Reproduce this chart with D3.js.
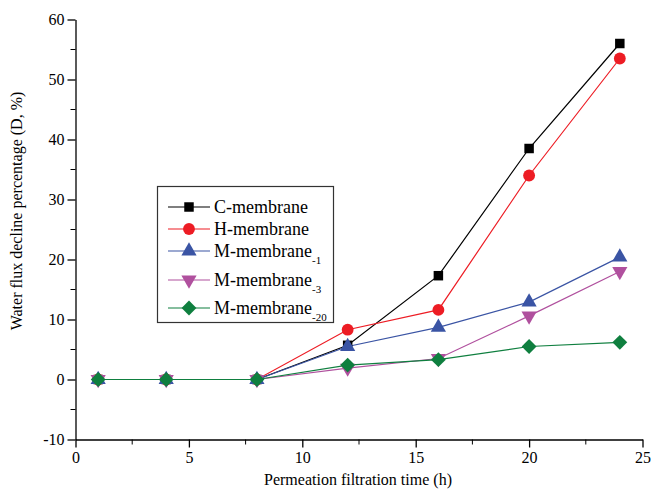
<!DOCTYPE html>
<html>
<head>
<meta charset="utf-8">
<script src="https://cdn.jsdelivr.net/npm/d3@7"></script>
<style>
  body { margin: 0; background: #fff; }
  svg, svg text { font-family: "Liberation Serif", "Times New Roman", Times, serif !important; }
</style>
</head>
<body>
<div id="chart"></div>
<script>
(function () {

    const W = 651, H = 494;

    // data
    const hours = [1, 4, 8, 12, 16, 20, 24];
    const cMembrane   = [0, 0, 0, 5.7, 17.3, 38.5, 56.0];
    const hMembrane   = [0, 0, 0, 8.3, 11.6, 34.0, 53.5];
    const mMembrane1  = [0, 0, 0, 5.5, 8.7, 12.9, 20.4];
    const mMembrane3  = [0, 0, 0, 1.9, 3.5, 10.6, 18.0];
    const mMembrane20 = [0, 0, 0, 2.4, 3.3, 5.5, 6.2];

    const xTicks = [0, 5, 10, 15, 20, 25];
    const yTicks = [-10, 0, 10, 20, 30, 40, 50, 60];

    const diamond = {
        draw(ctx, size) {
            const r = Math.sqrt(size / 2);
            ctx.moveTo(0, -r);
            ctx.lineTo(r, 0);
            ctx.lineTo(0, r);
            ctx.lineTo(-r, 0);
            ctx.closePath();
        }
    };

    const series = [
        { name: 'C-membrane', sub: '', values: cMembrane, color: '#000000', symbol: d3.symbolSquare, size: 90, rot: 0 },
        { name: 'H-membrane', sub: '', values: hMembrane, color: '#ed1c24', symbol: d3.symbolCircle, size: 110, rot: 0 },
        { name: 'M-membrane', sub: '-1', values: mMembrane1, color: '#3a54a4', symbol: d3.symbolTriangle, size: 100, rot: 0 },
        { name: 'M-membrane', sub: '-3', values: mMembrane3, color: '#b0509e', symbol: d3.symbolTriangle, size: 100, rot: 180 },
        { name: 'M-membrane', sub: '-20', values: mMembrane20, color: '#0f7f3f', symbol: diamond, size: 110, rot: 0 }
    ];

    const svg = d3.select('#chart')
        .append('svg')
        .attr('width', W)
        .attr('height', H);

    // scales
    const x = d3.scaleLinear()
        .domain([0, 25])
        .range([75.5, 642.5]);

    const y = d3.scaleLinear()
        .domain([-10, 60])
        .range([439.5, 19.5]);

    // minor ticks
    const xMinor = d3.range(2.5, 25, 5);
    const yMinor = d3.range(-5, 60, 10);

    const gx = svg.append('g')
        .attr('transform', `translate(0, ${y(-10)})`);
    gx.call(d3.axisBottom(x).tickValues(xTicks).tickFormat(d => String(d))
        .tickSize(8).tickSizeOuter(0).tickPadding(4));
    gx.selectAll('.minor')
        .data(xMinor)
        .enter()
        .append('line')
        .attr('x1', d => x(d))
        .attr('x2', d => x(d))
        .attr('y1', 0)
        .attr('y2', 5)
        .attr('stroke', '#000');

    const gy = svg.append('g')
        .attr('transform', `translate(${x(0)}, 0)`);
    gy.call(d3.axisLeft(y).tickValues(yTicks).tickFormat(d => String(d))
        .tickSize(8).tickSizeOuter(0).tickPadding(3));
    gy.selectAll('.minor')
        .data(yMinor)
        .enter()
        .append('line')
        .attr('y1', d => y(d))
        .attr('y2', d => y(d))
        .attr('x1', 0)
        .attr('x2', -5)
        .attr('stroke', '#000');

    svg.selectAll('.domain, .tick line')
        .attr('stroke', '#000')
        .attr('stroke-width', 1.3);
    svg.selectAll('g').attr('font-family', null);
    svg.selectAll('.tick text')
        .attr('font-size', 16)
        .attr('fill', '#000');

    // axis titles
    svg.append('text')
        .attr('x', 358)
        .attr('y', 485)
        .attr('text-anchor', 'middle')
        .attr('font-size', 16)
        .text('Permeation filtration time (h)');

    svg.append('text')
        .attr('transform', 'translate(22, 211) rotate(-90)')
        .attr('text-anchor', 'middle')
        .attr('font-size', 16)
        .text('Water flux decline percentage (D, %)');

    // lines and markers
    const line = d3.line()
        .x(d => x(d[0]))
        .y(d => y(d[1]));

    series.forEach(s => {
        const pts = hours.map((h, i) => [h, s.values[i]]);
        svg.append('path')
            .datum(pts)
            .attr('d', line)
            .attr('fill', 'none')
            .attr('stroke', s.color)
            .attr('stroke-width', 1.2);
    });

    series.forEach(s => {
        const pts = hours.map((h, i) => [h, s.values[i]]);
        svg.append('g')
            .selectAll('path')
            .data(pts)
            .enter()
            .append('path')
            .attr('d', d3.symbol().type(s.symbol).size(s.size))
            .attr('transform', d => `translate(${x(d[0])}, ${y(d[1])}) rotate(${s.rot})`)
            .attr('fill', s.color);
    });

    // legend
    const legend = svg.append('g');
    legend.append('rect')
        .attr('x', 157.5)
        .attr('y', 186.5)
        .attr('width', 176)
        .attr('height', 136)
        .attr('fill', '#fff')
        .attr('stroke', '#333')
        .attr('stroke-width', 1.2);

    const rowY = [207, 229, 251, 280, 308];
    series.forEach((s, i) => {
        const g = legend.append('g')
            .attr('transform', `translate(0, ${rowY[i]})`);
        g.append('line')
            .attr('x1', 168)
            .attr('x2', 210)
            .attr('stroke', s.color)
            .attr('stroke-width', 1.2);
        g.append('path')
            .attr('d', d3.symbol().type(s.symbol).size(s.size))
            .attr('transform', `translate(189, 0) rotate(${s.rot})`)
            .attr('fill', s.color);
        const t = g.append('text')
            .attr('x', 214)
            .attr('y', 6)
            .attr('font-size', 18)
            .text(s.name);
        if (s.sub) {
            t.append('tspan')
                .attr('dy', 7)
                .attr('font-size', 11)
                .text(s.sub);
        }
    });

})();
</script>
</body>
</html>
